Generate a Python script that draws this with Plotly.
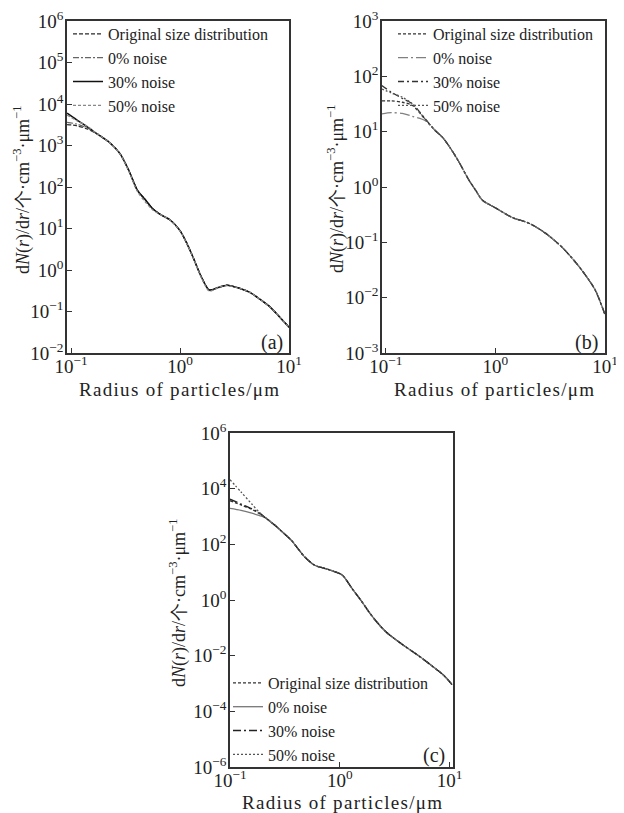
import plotly.graph_objects as go

FONT = "Liberation Serif, Times New Roman, serif"
OFF = 8            # browser body margin
W, H = 624 - OFF, 813 - OFF

# ---------------- Panel (a) ----------------
radius_a = [0.092, 0.112, 0.141, 0.174, 0.224, 0.282, 0.339, 0.407, 0.479, 0.562, 0.676, 0.813,
            1.0, 1.15, 1.32, 1.58, 1.86, 2.24, 2.69, 3.55, 4.37, 5.37, 6.76, 8.32, 10.0]
orig_a = [3.2e3, 3.0e3, 2.5e3, 1.9e3, 1.2e3, 630, 250, 83, 50, 30, 21, 16, 8.9, 4.5, 2.0,
          0.66, 0.33, 0.38, 0.43, 0.36, 0.29, 0.20, 0.126, 0.071, 0.042]
noise0_a = [3.6e3, 3.3e3, 2.6e3, 1.9e3, 1.2e3, 640, 250, 82, 49, 30, 21, 16, 8.8, 4.5, 2.0,
            0.65, 0.32, 0.37, 0.43, 0.36, 0.29, 0.20, 0.125, 0.070, 0.041]
noise30_a = [6.0e3, 4.2e3, 2.8e3, 1.9e3, 1.2e3, 630, 250, 83, 50, 30, 21, 16, 8.9, 4.5, 2.0,
             0.66, 0.33, 0.38, 0.43, 0.36, 0.29, 0.20, 0.126, 0.071, 0.042]
noise50_a = [5.4e3, 4.0e3, 2.9e3, 1.9e3, 1.2e3, 620, 240, 78, 44, 28, 21, 16, 8.7, 4.4, 2.0,
             0.64, 0.31, 0.38, 0.42, 0.36, 0.29, 0.20, 0.125, 0.071, 0.041]

# ---------------- Panel (b) ----------------
radius_b = [0.092, 0.112, 0.141, 0.174, 0.229, 0.282, 0.331, 0.389, 0.457, 0.575, 0.661, 0.759,
            1.0, 1.43, 2.04, 2.88, 4.07, 5.89, 8.13, 10.0]
orig_b = [36, 36, 34, 30, 16.6, 10.5, 7.8, 5.0, 3.0, 1.32, 0.87, 0.58, 0.42, 0.28, 0.22,
          0.145, 0.081, 0.035, 0.0138, 0.0049]
noise0_b = [21, 22, 21.4, 19, 15.8, 10.5, 7.8, 5.0, 3.0, 1.32, 0.87, 0.58, 0.42, 0.28, 0.22,
            0.145, 0.081, 0.035, 0.0138, 0.0049]
noise30_b = [68, 52, 40, 32, 17, 10.5, 7.8, 5.0, 3.0, 1.32, 0.87, 0.58, 0.42, 0.28, 0.22,
             0.145, 0.081, 0.035, 0.0138, 0.0049]
noise50_b = [59, 50, 42, 32, 16.8, 10.5, 7.8, 5.0, 3.0, 1.32, 0.87, 0.58, 0.42, 0.28, 0.22,
             0.145, 0.081, 0.035, 0.0138, 0.0049]

# ---------------- Panel (c) ----------------
radius_c = [0.1, 0.126, 0.158, 0.186, 0.209, 0.257, 0.309, 0.363, 0.417, 0.479, 0.589, 0.724,
            0.891, 1.05, 1.32, 1.58, 1.86, 2.24, 2.69, 3.72, 5.37, 7.59, 8.91, 10.5]
orig_c = [3.7e3, 2.6e3, 1.8e3, 1.26e3, 910, 480, 250, 138, 69, 35, 17.8, 13.8, 10.5, 7.9, 2.3,
          0.89, 0.35, 0.14, 0.066, 0.025, 0.0091, 0.0032, 0.0019, 0.00091]
noise0_c = [1.95e3, 1.66e3, 1.32e3, 1.07e3, 910, 480, 250, 138, 69, 35, 17.8, 13.8, 10.5, 7.9,
            2.3, 0.89, 0.35, 0.14, 0.066, 0.025, 0.0091, 0.0032, 0.0019, 0.00091]
noise30_c = [4.2e3, 2.8e3, 1.9e3, 1.32e3, 910, 480, 250, 138, 69, 35, 17.8, 13.8, 10.5, 7.9,
             2.3, 0.89, 0.35, 0.14, 0.066, 0.025, 0.0091, 0.0032, 0.0019, 0.00091]
noise50_c = [2.1e4, 7.6e3, 2.8e3, 1.38e3, 930, 480, 250, 138, 69, 35, 17.8, 13.8, 10.5, 7.9,
             2.3, 0.89, 0.35, 0.14, 0.066, 0.025, 0.0091, 0.0032, 0.0019, 0.00091]

series_names = ["Original size distribution", "0% noise", "30% noise", "50% noise"]
x_ticks = [0.1, 1, 10]
x_ticktext = ["10<sup>−1</sup>", "10<sup>0</sup>", "10<sup>1</sup>"]
y_ticks_a = [1e-2, 1e-1, 1, 1e1, 1e2, 1e3, 1e4, 1e5, 1e6]
y_ticktext_a = ["10<sup>−2</sup>", "10<sup>−1</sup>", "10<sup>0</sup>", "10<sup>1</sup>",
                "10<sup>2</sup>", "10<sup>3</sup>", "10<sup>4</sup>", "10<sup>5</sup>", "10<sup>6</sup>"]
y_ticks_b = [1e-3, 1e-2, 1e-1, 1, 1e1, 1e2, 1e3]
y_ticktext_b = ["10<sup>−3</sup>", "10<sup>−2</sup>", "10<sup>−1</sup>", "10<sup>0</sup>",
                "10<sup>1</sup>", "10<sup>2</sup>", "10<sup>3</sup>"]
y_ticks_c = [1e-6, 1e-4, 1e-2, 1, 1e2, 1e4, 1e6]
y_ticktext_c = ["10<sup>−6</sup>", "10<sup>−4</sup>", "10<sup>−2</sup>", "10<sup>0</sup>",
                "10<sup>2</sup>", "10<sup>4</sup>", "10<sup>6</sup>"]

Y_TITLE = "d<i>N</i>(<i>r</i>)/d<i>r</i>/个·cm<sup>−3</sup>·μm<sup>−1</sup>"
X_TITLE = '<span style="letter-spacing:1.3px">Radius of particles/μm</span>'


def px_x(p):
    return (p - OFF) / W


def px_y(p):
    return 1 - (p - OFF) / H


fig = go.Figure()

styles = {
    "a": [dict(color="#2a2a2a", width=1.3, dash="4px,2px"),
          dict(color="#666666", width=1.2, dash="6px,2px,2px,2px"),
          dict(color="#111111", width=1.5, dash="solid"),
          dict(color="#888888", width=1.3, dash="3px,2px")],
    "b": [dict(color="#333333", width=1.3, dash="3px,2px"),
          dict(color="#808080", width=1.3, dash="10px,3px,2px,3px"),
          dict(color="#333333", width=1.3, dash="6px,3px,2px,3px"),
          dict(color="#555555", width=1.3, dash="2px,2px")],
    "c": [dict(color="#333333", width=1.3, dash="3px,2px"),
          dict(color="#777777", width=1.3, dash="solid"),
          dict(color="#222222", width=1.4, dash="8px,3px,2px,3px"),
          dict(color="#555555", width=1.3, dash="2px,2px")],
}

panels = [
    ("a", radius_a, [orig_a, noise0_a, noise30_a, noise50_a], "x", "y", "legend"),
    ("b", radius_b, [orig_b, noise0_b, noise30_b, noise50_b], "x2", "y2", "legend2"),
    ("c", radius_c, [orig_c, noise0_c, noise30_c, noise50_c], "x3", "y3", "legend3"),
]

for key, rad, vals, xa, ya, lg in panels:
    for name, v, st in zip(series_names, vals, styles[key]):
        fig.add_trace(go.Scatter(x=rad, y=v, mode="lines", name=name,
                                 line=dict(shape="spline", smoothing=0.8, **st),
                                 xaxis=xa, yaxis=ya, legend=lg))

axis_common = dict(type="log", showgrid=False, zeroline=False, showline=True, linecolor="#333333",
                   linewidth=1.5, mirror=True, ticks="inside", ticklen=5, tickwidth=1.3,
                   automargin=False, ticklabeloverflow="allow",
                   tickcolor="#333333", tickfont=dict(family=FONT, size=19, color="#222222"))
xaxis_common = dict(axis_common, ticklabelstandoff=-5)
yaxis_common = dict(axis_common, ticklabelstandoff=-2)

# domains (screen pixels -> paper)
dom_a_x = [px_x(67), px_x(289)]
dom_b_x = [px_x(382), px_x(605)]
dom_ab_y = [px_y(353), px_y(21)]
dom_c_x = [px_x(230), px_x(453)]
dom_c_y = [px_y(767), px_y(433)]

leg_font = dict(family=FONT, size=16, color="#222222")
fig.update_layout(
    template="none",
    width=W, height=H,
    margin=dict(l=0, r=0, t=0, b=0, autoexpand=False),
    paper_bgcolor="white", plot_bgcolor="white",
    font=dict(family=FONT, color="#222222"),
    xaxis=dict(domain=dom_a_x, anchor="y", range=[-1.037, 1.0], tickvals=x_ticks, ticktext=x_ticktext, **xaxis_common),
    yaxis=dict(domain=dom_ab_y, anchor="x", range=[-2, 6], tickvals=y_ticks_a, ticktext=y_ticktext_a, **yaxis_common),
    xaxis2=dict(domain=dom_b_x, anchor="y2", range=[-1.035, 1.0], tickvals=x_ticks, ticktext=x_ticktext, **xaxis_common),
    yaxis2=dict(domain=dom_ab_y, anchor="x2", range=[-3, 3], tickvals=y_ticks_b, ticktext=y_ticktext_b, **yaxis_common),
    xaxis3=dict(domain=dom_c_x, anchor="y3", range=[-1.0, 1.03], tickvals=x_ticks, ticktext=x_ticktext, **xaxis_common),
    yaxis3=dict(domain=dom_c_y, anchor="x3", range=[-6, 6], tickvals=y_ticks_c, ticktext=y_ticktext_c, **yaxis_common),
    legend=dict(x=px_x(68), y=px_y(17), xanchor="left", yanchor="top", bgcolor="rgba(0,0,0,0)",
                font=leg_font, tracegroupgap=0),
    legend2=dict(x=px_x(393), y=px_y(17), xanchor="left", yanchor="top", bgcolor="rgba(0,0,0,0)",
                 font=leg_font, tracegroupgap=0),
    legend3=dict(x=px_x(228), y=px_y(666), xanchor="left", yanchor="top", bgcolor="rgba(0,0,0,0)",
                 font=leg_font, tracegroupgap=0),
)

ann = []
for xc, yc in [(22, 190), (336, 189), (178, 603)]:
    ann.append(dict(text=Y_TITLE, x=px_x(xc), y=px_y(yc), xref="paper", yref="paper", showarrow=False,
                    textangle=-90, xanchor="center", yanchor="middle",
                    font=dict(family=FONT, size=18, color="#222222")))
for xc, yc in [(179, 389), (494, 389), (343, 802)]:
    ann.append(dict(text=X_TITLE, x=px_x(xc), y=px_y(yc), xref="paper", yref="paper", showarrow=False,
                    xanchor="center", yanchor="middle", font=dict(family=FONT, size=19, color="#222222")))
for lbl, xc, yc in [("(a)", 272, 342), ("(b)", 586, 342), ("(c)", 434, 755)]:
    ann.append(dict(text=lbl, x=px_x(xc), y=px_y(yc), xref="paper", yref="paper", showarrow=False,
                    xanchor="center", yanchor="middle", font=dict(family=FONT, size=20, color="#222222")))
fig.update_layout(annotations=ann)

fig.write_html("out.html")
